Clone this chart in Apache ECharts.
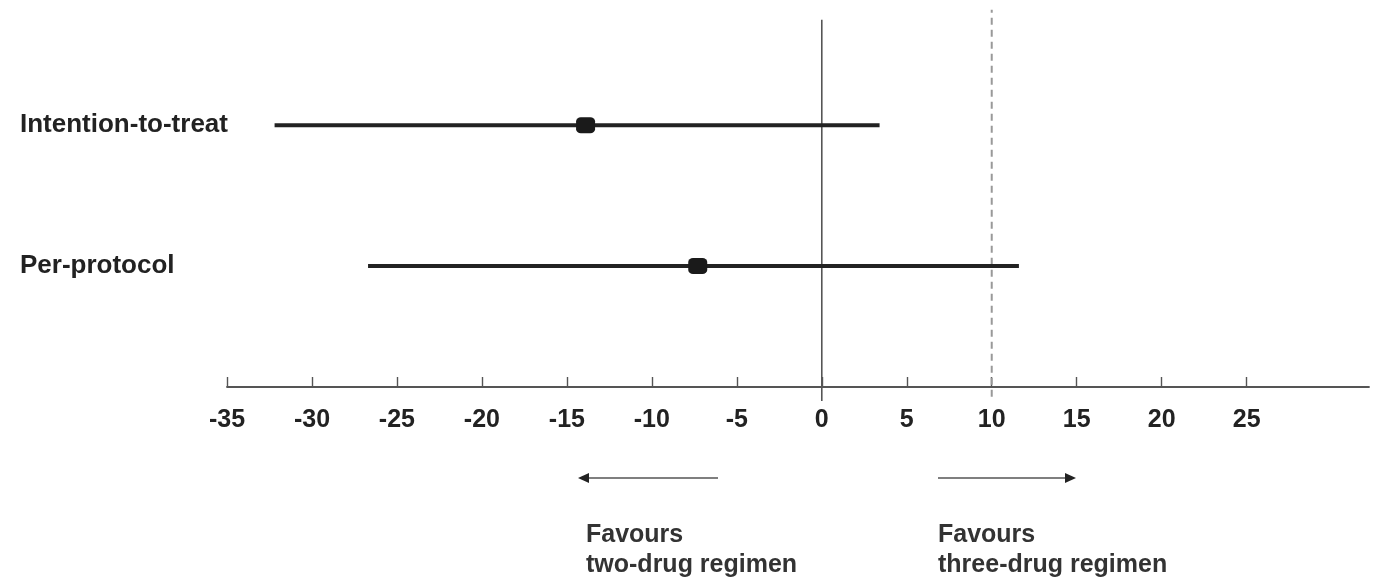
<!DOCTYPE html>
<html>
<head>
<meta charset="utf-8">
<script src="https://cdn.jsdelivr.net/npm/echarts@6/dist/echarts.min.js"></script>
<style>html,body{margin:0;padding:0;background:#fff}#c{width:1382px;height:580px}</style>
</head>
<body>
<div id="c"></div>
<script>
// ---- data ----
var categories = ['Per-protocol', 'Intention-to-treat'];   // y = 0, 1
var estimates = [-7.3, -13.9];
var lowerCI = [-26.7, -32.2];
var upperCI = [11.6, 3.4];
var tickValues = [-35, -30, -25, -20, -15, -10, -5, 0, 5, 10, 15, 20, 25];
var nullLine = 0;        // no difference
var marginLine = 10;     // non-inferiority margin
var leftNote = ['Favours', 'two-drug regimen'];
var rightNote = ['Favours', 'three-drug regimen'];

var FONT = '"Liberation Sans", Arial, sans-serif';
var chart = echarts.init(document.getElementById('c'), null, {renderer: 'canvas'});

var series = [];
categories.forEach(function (c, i) {
  series.push({
    type: 'line', name: c + ' CI', data: [[lowerCI[i], i], [upperCI[i], i]],
    showSymbol: false, silent: true,
    lineStyle: {color: '#222', width: 4}, z: 3
  });
});
series.push({
  type: 'scatter', data: estimates.map(function (v, i) { return [v, i]; }),
  symbol: 'roundRect', symbolSize: [19, 16],
  itemStyle: {color: '#1a1a1a', opacity: 1}, z: 5, silent: true
});
series.push({
  type: 'line', data: [[nullLine, -0.96], [nullLine, 1.75]], clip: false,
  showSymbol: false, silent: true, lineStyle: {color: '#555', width: 1.6}, z: 2
});
series.push({
  type: 'line', data: [[marginLine, -0.93], [marginLine, 1.82]], clip: false,
  showSymbol: false, silent: true, lineStyle: {color: '#999', width: 2, type: [7, 5]}, z: 2
});

function arrow(x1, x2, y) {
  var dir = x2 > x1 ? 1 : -1;
  return [
    {type: 'line', shape: {x1: x1, y1: y, x2: x2 - dir * 8, y2: y}, style: {stroke: '#555', lineWidth: 1.6}},
    {type: 'polygon', shape: {points: [[x2, y], [x2 - dir * 11, y - 5], [x2 - dir * 11, y + 5]]}, style: {fill: '#222'}}
  ];
}

var graphics = [].concat(arrow(718, 578, 478), arrow(938, 1076, 478));
graphics.push({
  type: 'text', left: 586, top: 520,
  style: {text: leftNote.join('\n'), font: 'bold 25px ' + FONT, fill: '#333', lineHeight: 30}
});
graphics.push({
  type: 'text', left: 938, top: 520,
  style: {text: rightNote.join('\n'), font: 'bold 25px ' + FONT, fill: '#333', lineHeight: 30}
});

chart.setOption({
  animation: false,
  backgroundColor: '#fff',
  grid: {left: 227, right: 13, top: 7, bottom: 193},
  xAxis: {
    type: 'value', min: -35, max: 32.2,
    splitLine: {show: false},
    axisLine: {show: true, onZero: false, lineStyle: {color: '#555', width: 1.8}},
    axisTick: {show: true, inside: true, length: 10, customValues: tickValues, lineStyle: {color: '#555', width: 1.4}},
    axisLabel: {customValues: tickValues, fontFamily: FONT, fontWeight: 'bold', fontSize: 25, color: '#222', margin: 21}
  },
  yAxis: {
    type: 'value', min: -0.86, max: 1.84,
    splitLine: {show: false}, axisLine: {show: false}, axisTick: {show: false},
    axisLabel: {
      customValues: [0, 1], align: 'left', margin: 207,
      formatter: function (v) { return categories[Math.round(v)] || ''; },
      fontFamily: FONT, fontWeight: 'bold', fontSize: 26, color: '#222'
    }
  },
  graphic: graphics,
  series: series
});
</script>
</body>
</html>
